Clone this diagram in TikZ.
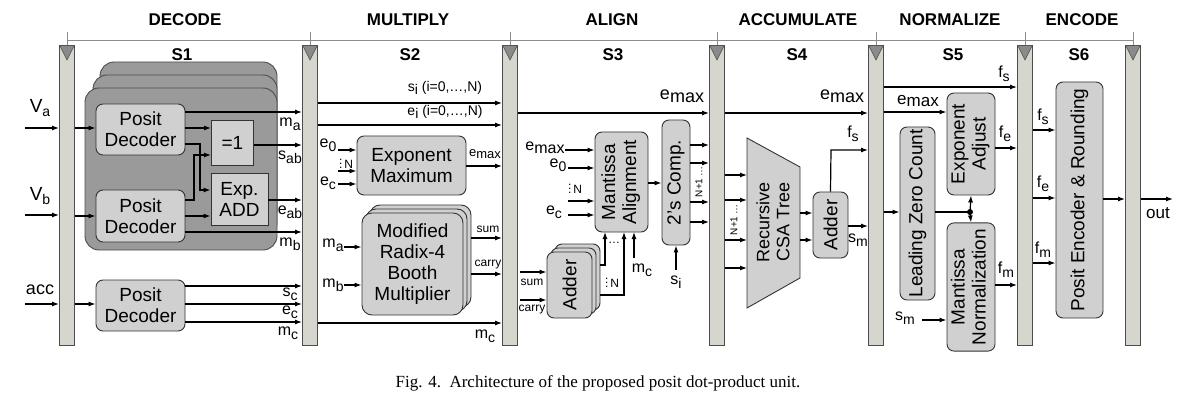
\documentclass[tikz,border=0pt]{standalone}
\usepackage{fontspec}
\setmainfont{Liberation Sans}
\newfontfamily\capfont{Liberation Serif}
\usetikzlibrary{arrows.meta}
\newcommand\sbs[1]{\raisebox{-0.45ex}{\fontsize{14}{14}\selectfont #1}}
\tikzset{
 reg/.style={draw=black!70,fill=regc,line width=0.8pt,minimum width=15pt,minimum height=300pt,inner sep=0},
 blk/.style={draw=black!80,fill=boxc,line width=0.9pt,rounded corners=7pt,align=center,font=\fontsize{19}{21}\selectfont,inner sep=0},
 sq/.style={draw=black!80,fill=boxc,line width=0.9pt,align=center,font=\fontsize{19}{21}\selectfont,inner sep=0},
 ar/.style={-{Latex[length=7pt,width=5pt]},line width=1.2pt},
 ln/.style={line width=1.2pt},
 lb/.style={font=\fontsize{16}{16}\selectfont,inner sep=1pt},
 sl/.style={font=\fontsize{12}{12}\selectfont,inner sep=1pt},
 hd/.style={font=\bfseries\fontsize{17}{17}\selectfont},
}
\definecolor{regc}{HTML}{D6D6CE}
\definecolor{boxc}{HTML}{D0D0D0}
\definecolor{grpc}{HTML}{9A9A9A}
\definecolor{tric}{HTML}{8A8A8A}
\begin{document}
\begin{tikzpicture}[x=1pt,y=-1pt]
\useasboundingbox (0,0) rectangle (1200,409);
% top bracket
\draw[black!45,line width=0.8pt] (67,40) -- (1133,40);
\foreach \x in {67,310,510,717,876,1025,1133} \draw[black!45,line width=0.8pt] (\x,32) -- (\x,45);
\node[hd] (h1) at (185,20) {DECODE};
\node[hd] (h2) at (408,20) {MULTIPLY};
\node[hd] (h3) at (612,20) {ALIGN};
\node[hd] (h4) at (798,20) {ACCUMULATE};
\node[hd] (h5) at (950,20) {NORMALIZE};
\node[hd] (h6) at (1082,20) {ENCODE};
\node[hd] (s1) at (182,55) {S1};
\node[hd] (s2) at (410,55) {S2};
\node[hd] (s3) at (613,55) {S3};
\node[hd] (s4) at (797,55) {S4};
\node[hd] (s5) at (953,55) {S5};
\node[hd] (s6) at (1079,55) {S6};
% registers
\foreach \n/\x in {r1/67,r2/310,r3/510,r4/717,r5/876,r6/1025,r7/1133}{
 \node[reg] (\n) at (\x,195) {};
 \fill[tric] (\x-7,46) -- (\x+7,46) -- (\x,60) -- cycle;
 \draw[black!70,line width=0.6pt] (\x-7,46) -- (\x,60) -- (\x+7,46);
}
% S1 group
\foreach \dx/\dy in {15/-26,8/-13,0/0}
 \draw[black!70,fill=grpc,line width=0.9pt,rounded corners=14pt] (85+\dx,88+\dy) rectangle (277,250+\dy);
\node[blk,minimum width=89pt,minimum height=51pt] (d1) at (140.5,129.5) {Posit\\Decoder};
\node[blk,minimum width=89pt,minimum height=52pt] (d2) at (140.5,216) {Posit\\Decoder};
\node[blk,minimum width=89pt,minimum height=51pt] (d3) at (140.5,305.5) {Posit\\Decoder};
\node[sq,minimum width=42pt,minimum height=45pt,anchor=north west,inner sep=4pt] (eq) at (211,120) {=1};
\node[sq,minimum width=57pt,minimum height=52pt] (ea) at (239.5,199) {Exp.\\ADD};
\node[lb] (va) at (40,108) {\fontsize{19}{19}\selectfont V\sbs{a}};
\node[lb] (vb) at (40,196) {\fontsize{19}{19}\selectfont V\sbs{b}};
\node[lb] (acc) at (40,290) {\fontsize{18}{18}\selectfont acc};
\draw[ar] (25,128) -- (r1.west|-0,128);
\draw[ar] (25,215) -- (r1.west|-0,215);
\draw[ar] (25,304) -- (r1.west|-0,304);
\draw[ar] (r1.east|-0,128) -- (d1.west|-0,128);
\draw[ar] (r1.east|-0,216) -- (d2.west|-0,216);
\draw[ar] (r1.east|-0,304) -- (d3.west|-0,304);
\draw[ar] (d1.east|-0,112) -- (r2.west|-0,112);
\draw[ar] (d1.east|-0,128) -- (eq.west|-0,128);
\draw[ar] (d1.east|-0,144) -- (200,144) -- (200,190) -- (ea.west|-0,190);
\draw[ar] (d2.east|-0,200) -- (194,200) -- (194,155) -- (eq.west|-0,155);
\draw[ar] (d2.east|-0,216) -- (ea.west|-0,216);
\draw[ar] (d2.east|-0,232) -- (r2.west|-0,232);
\draw[ar] (eq.east|-0,145) -- (r2.west|-0,145);
\draw[ar] (ea.east|-0,200) -- (r2.west|-0,200);
\draw[ar] (d3.east|-0,286) -- (r2.west|-0,286);
\draw[ar] (d3.east|-0,304) -- (r2.west|-0,304);
\draw[ar] (d3.east|-0,322) -- (r2.west|-0,322);
\node[lb] (lma) at (290,124) {m\sbs{a}};
\node[lb] (lsab) at (290,157) {s\sbs{ab}};
\node[lb] (leab) at (290,212) {e\sbs{ab}};
\node[lb] (lmb) at (290,244) {m\sbs{b}};
\node[lb] (lsc) at (290,294) {s\sbs{c}};
\node[lb] (lec) at (290,312) {e\sbs{c}};
\node[lb] (lmc) at (288,333) {m\sbs{c}};
% S2
\draw[ar] (r2.east|-0,103) -- (r3.west|-0,103);
\draw[ar] (r2.east|-0,125) -- (r3.west|-0,125);
\node[lb,font=\fontsize{14}{14}\selectfont] (lsi) at (445,88) {s\sbs{i} (i=0,\dots,N)};
\node[lb,font=\fontsize{14}{14}\selectfont] (lei) at (445,112) {e\sbs{i} (i=0,\dots,N)};
\node[blk,minimum width=109pt,minimum height=59pt] (em) at (411.5,165.5) {Exponent\\Maximum};
\node[lb] (le0) at (328,145) {e\sbs{0}};
\node[lb] (lec2) at (328,183) {e\sbs{c}};
\draw[ar] (338,150) -- (em.west|-0,150);
\draw[ar] (338,171) -- (em.west|-0,171);
\draw[ar] (338,184) -- (em.west|-0,184);
\node[sl] (ln1) at (346,161) {\vdots\,N};
\draw[ar] (em.east|-0,166) -- (r3.west|-0,166);
\node[sl,font=\fontsize{13}{13}\selectfont] (lemax1) at (485,154) {e\raisebox{-0.3ex}{max}};
\foreach \d in {8,4}
 \draw[black!80,fill=boxc,line width=0.9pt,rounded corners=10pt] (362+\d,213-\d) rectangle (463+\d,315-\d);
\node[blk,minimum width=101pt,minimum height=102pt,rounded corners=10pt] (bm) at (412.5,264) {Modified\\Radix-4\\Booth\\Multiplier};
\node[lb] (lma2) at (333,245) {m\sbs{a}};
\node[lb] (lmb2) at (333,285) {m\sbs{b}};
\draw[ar] (344,247) -- (bm.west|-0,247);
\draw[ar] (344,285) -- (bm.west|-0,285);
\draw[ar] (471,238) -- (r3.west|-0,238);
\draw[ar] (471,274) -- (r3.west|-0,274);
\node[sl] (lsum) at (488,229) {sum};
\node[sl] (lcar) at (488,265) {carry};
\draw[ar] (r2.east|-0,323) -- (r3.west|-0,323);
\node[lb] (lmc2) at (485,336) {m\sbs{c}};
% S3
\draw[ar] (r3.east|-0,113) -- (r4.west|-0,113);
\node[lb,font=\fontsize{18}{18}\selectfont] (lemax2) at (682,96) {e\raisebox{-0.3ex}{max}};
\node[blk,minimum width=53pt,minimum height=100pt] (ma) at (621.5,182) {\rotatebox{90}{\begin{tabular}{c}Mantissa\\Alignment\end{tabular}}};
\node[lb] (lemax3) at (545,148) {e\raisebox{-0.3ex}{max}};
\node[lb] (le03) at (558,165) {e\sbs{0}};
\node[lb] (lec3) at (554,212) {e\sbs{c}};
\node[sl] (ln3) at (575,186) {\vdots\,N};
\draw[ar] (565,150) -- (ma.west|-0,150);
\draw[ar] (568,168) -- (ma.west|-0,168);
\draw[ar] (568,201) -- (ma.west|-0,201);
\draw[ar] (568,215) -- (ma.west|-0,215);
\foreach \d in {8,4}
 \draw[black!80,fill=boxc,line width=0.9pt,rounded corners=7pt] (547+\d,252-\d) rectangle (592+\d,318-\d);
\node[blk,minimum width=45pt,minimum height=66pt] (ad1) at (569.5,285) {\rotatebox{90}{Adder}};
\draw[ar] (520,272) -- (ad1.west|-0,272);
\draw[ar] (520,300) -- (ad1.west|-0,300);
\node[sl] (lsum2) at (532,282) {sum};
\node[sl] (lcar2) at (532,310) {carry};
\draw[ar] (600,265) -- (605,265) -- (605,232);
\draw[ar] (600,295) -- (624,295) -- (624,232);
\node[sl] (ldots) at (614,243) {\dots};
\node[sl] (ln4) at (612,280) {\vdots\,N};
\draw[ar] (634,258) -- (634,232);
\node[lb] (lmc3) at (642,270) {m\sbs{c}};
\node[blk,minimum width=28pt,minimum height=125pt] (tc) at (676,182.5) {\rotatebox{90}{2's Comp.}};
\draw[ar] (ma.east|-0,183) -- (tc.west|-0,183);
\foreach \y in {145,163,202,222} \draw[ar] (tc.east|-0,\y) -- (r4.west|-0,\y);
\node[sl,rotate=90,font=\fontsize{10}{10}\selectfont] (ln5) at (699,182) {N+1\,\dots};
\draw[ar] (676,270) -- (tc.south);
\node[lb] (lsi3) at (676,282) {s\sbs{i}};
% S4
\draw[ar] (r4.east|-0,113) -- (r5.west|-0,113);
\node[lb,font=\fontsize{18}{18}\selectfont] (lemax4) at (842,96) {e\raisebox{-0.3ex}{max}};
\draw[black!80,fill=boxc,line width=0.9pt] (747,138) -- (800,167) -- (800,278) -- (747,308) -- cycle;
\node[font=\fontsize{18}{20}\selectfont,rotate=90,align=center] (csa) at (773,222) {Recursive\\CSA Tree};
\foreach \y in {175,200,240,268} \draw[ar] (r4.east|-0,\y) -- (747,\y);
\node[sl,rotate=90,font=\fontsize{10}{10}\selectfont] (ln6) at (734,220) {N+1\,\dots};
\node[blk,minimum width=35pt,minimum height=66pt] (ad2) at (830.5,225) {\rotatebox{90}{Adder}};
\draw[ar] (800,213) -- (ad2.west|-0,213);
\draw[ar] (800,240) -- (ad2.west|-0,240);
\draw[ar] (ad2.north) -- (831,150) -- (r5.west|-0,150);
\node[lb] (lfs4) at (853,134) {f\sbs{s}};
\draw[ar] (ad2.east|-0,226) -- (r5.west|-0,226);
\node[lb] (lsm4) at (858,240) {s\sbs{m}};
% S5
\draw[ar] (r5.east|-0,87) -- (r6.west|-0,87);
\node[lb] (lfs5) at (1004,74) {f\sbs{s}};
\node[blk,minimum width=48pt,minimum height=102pt] (xa) at (971,144) {\rotatebox{90}{\begin{tabular}{c}Exponent\\Adjust\end{tabular}}};
\draw[ar] (r5.east|-0,112) -- (xa.west|-0,112);
\node[lb,font=\fontsize{17}{17}\selectfont] (lemax5) at (918,101) {e\raisebox{-0.3ex}{max}};
\node[blk,minimum width=35pt,minimum height=173pt] (lz) at (917.5,213.5) {\rotatebox{90}{Leading Zero Count}};
\draw[ar] (r5.east|-0,212) -- (lz.west|-0,212);
\node[blk,minimum width=48pt,minimum height=116pt] (mn) at (971,287) {\rotatebox{90}{\begin{tabular}{c}Mantissa\\Normalization\end{tabular}}};
\draw[ln] (lz.east|-0,212) -- (970,212);
\fill (970,212) circle (3pt);
\draw[ar] (970,212) -- (xa.south);
\draw[ar] (970,212) -- (mn.north);
\draw[ar] (922,320) -- (mn.west|-0,320);
\node[lb] (lsm5) at (905,318) {s\sbs{m}};
\draw[ar] (xa.east|-0,148) -- (r6.west|-0,148);
\node[lb] (lfe5) at (1005,134) {f\sbs{e}};
\draw[ar] (mn.east|-0,285) -- (r6.west|-0,285);
\node[lb] (lfm5) at (1006,270) {f\sbs{m}};
% S6
\node[blk,minimum width=47pt,minimum height=236pt] (pe) at (1079.5,200) {\rotatebox{90}{Posit Encoder \& Rounding}};
\draw[ar] (r6.east|-0,130) -- (pe.west|-0,130);
\draw[ar] (r6.east|-0,198) -- (pe.west|-0,198);
\draw[ar] (r6.east|-0,263) -- (pe.west|-0,263);
\node[lb] (lfs6) at (1043,117) {f\sbs{s}};
\node[lb] (lfe6) at (1043,184) {f\sbs{e}};
\node[lb] (lfm6) at (1043,250) {f\sbs{m}};
\draw[ar] (pe.east|-0,199) -- (r7.west|-0,199);
\draw[ar] (r7.east|-0,199) -- (1173,199);
\node[lb,font=\fontsize{17}{17}\selectfont] (out) at (1158,213) {out};
% caption
\node[font=\capfont\fontsize{17}{17}\selectfont] (cap) at (598,383) {Fig. 4.\ \ Architecture of the proposed posit dot-product unit.};
\end{tikzpicture}
\end{document}
